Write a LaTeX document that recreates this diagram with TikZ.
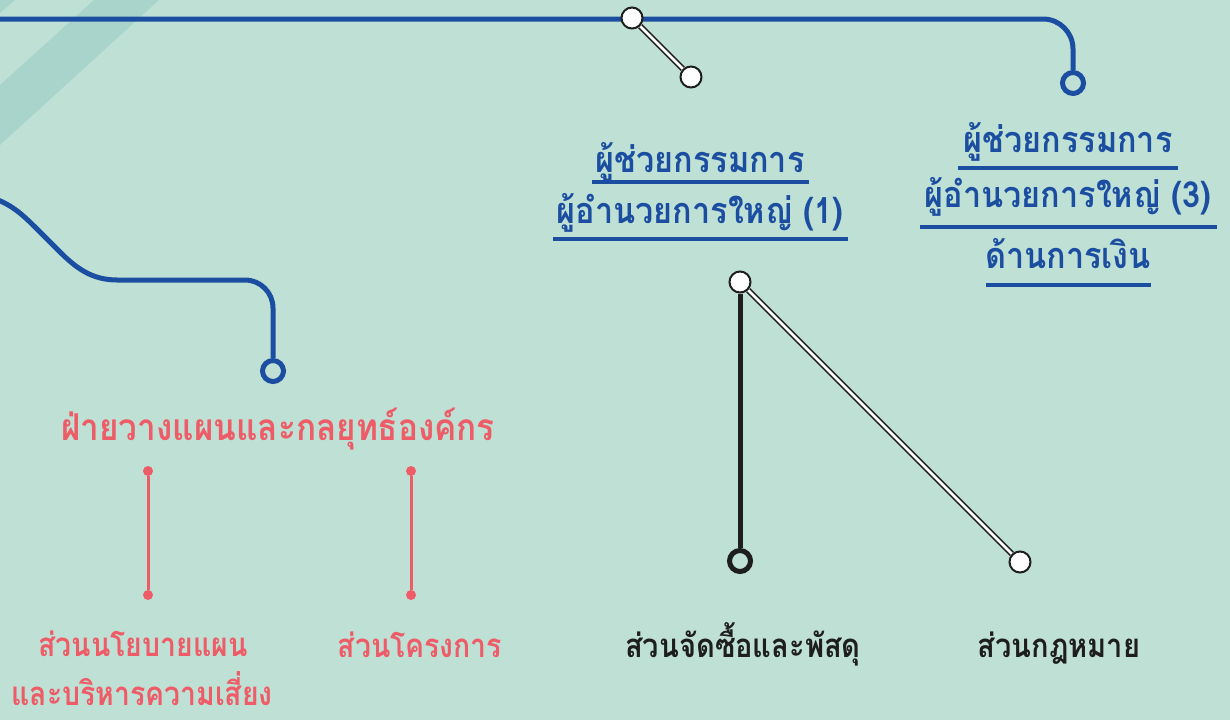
\documentclass[tikz,border=0pt]{standalone}
\usepackage{fontspec}
\newfontfamily\thaiA[Script=Thai, FakeStretch=0.9]{Loma}
\newfontfamily\thaiB[Script=Thai, FakeStretch=0.86]{Loma}
\newfontfamily\thaiC[Script=Thai, FakeStretch=0.88]{Loma}
\definecolor{bgc}{HTML}{BFE0D5}
\definecolor{stripec}{HTML}{A9D4CC}
\definecolor{bluec}{HTML}{1B4EA0}
\definecolor{redc}{HTML}{EE5C67}
\definecolor{blackc}{HTML}{1E1E1E}
\pgfdeclarelayer{bglayer}
\pgfdeclarelayer{lines}
\pgfsetlayers{bglayer,lines,main}
\tikzset{
  blueline/.style={draw=bluec, line width=5pt},
  bluering/.style={circle, draw=bluec, line width=5pt, fill=bgc, minimum size=21pt, inner sep=0pt},
  whitedot/.style={circle, draw=blackc, line width=2pt, fill=white, minimum size=21pt, inner sep=0pt},
  blackring/.style={circle, draw=blackc, line width=5pt, fill=bgc, minimum size=21pt, inner sep=0pt},
  dblline/.style={draw=blackc, double=white, line width=1.6pt, double distance=2.6pt},
  reddot/.style={circle, fill=redc, minimum size=10pt, inner sep=0pt},
  redline/.style={draw=redc, line width=3pt},
  ul/.style={draw=bluec, line width=4pt},
  bluetxt/.style={anchor=base, inner sep=0pt, text=bluec, font=\thaiA\bfseries\fontsize{36}{40}\selectfont},
  redtitle/.style={anchor=base, inner sep=0pt, text=redc, font=\thaiA\bfseries\fontsize{37}{40}\selectfont},
  redtxt/.style={anchor=base, inner sep=0pt, text=redc, font=\thaiB\bfseries\fontsize{33}{38}\selectfont},
  blacktxt/.style={anchor=base, inner sep=0pt, text=blackc, font=\thaiC\bfseries\fontsize{33}{38}\selectfont},
}
\begin{document}
\begin{tikzpicture}[x=1pt,y=-1pt]
\useasboundingbox (0,0) rectangle (1230,720);
\begin{pgfonlayer}{bglayer}
\fill[bgc] (0,0) rectangle (1230,720);
\fill[stripec] (94,0) -- (159,0) -- (0,145) -- (0,85) -- cycle;
\fill[stripec] (0,0) -- (15,0) -- (0,13) -- cycle;
\end{pgfonlayer}
% nodes
\node[bluering] (r3) at (1073,83) {};
\node[bluering] (r1) at (273,371) {};
\node[whitedot] (w1) at (632,18) {};
\node[whitedot] (w2) at (691,77) {};
\node[whitedot] (b1) at (740,282) {};
\node[blackring] (b2) at (740,561) {};
\node[whitedot] (b3) at (1020,562) {};
\node[reddot] (p1) at (148,471) {};
\node[reddot] (p2) at (148,595) {};
\node[reddot] (p3) at (411,471) {};
\node[reddot] (p4) at (411,595) {};
\coordinate (topstart) at (0,19);
\coordinate (leftstart) at (-2,200);
% connectors
\begin{pgfonlayer}{lines}
\draw[blueline, rounded corners=30] (topstart) -| (r3.north);
\draw[blueline] (leftstart) .. controls (15,207) and (25,217) .. (40,232) -- (60,252) .. controls (76,268) and (92,280) .. (117,280) [rounded corners=28] -| (r1.north);
\draw[dblline] (w1) -- (w2);
\draw[draw=blackc, line width=5pt] (b1) -- (b2);
\draw[dblline] (b1) -- (b3);
\draw[redline] (p1) -- (p2);
\draw[redline] (p3) -- (p4);
\end{pgfonlayer}
% texts group 1
\node[bluetxt] (g1a) at (700,172) {ผู้ช่วยกรรมการ};
\node[bluetxt] (g1b) at (700,223) {ผู้อำนวยการใหญ่ (1)};
\draw[ul] (592,182) -- (809,182);
\draw[ul] (553,239) -- (848,239);
% group 2
\node[bluetxt] (g2a) at (1068,152) {ผู้ช่วยกรรมการ};
\node[bluetxt] (g2b) at (1068,207) {ผู้อำนวยการใหญ่ (3)};
\node[bluetxt] (g2c) at (1068,268) {ด้านการเงิน};
\draw[ul] (958,168) -- (1178,168);
\draw[ul] (920,227) -- (1217,227);
\draw[ul] (986,285) -- (1151,285);
% red
\node[redtitle] (rt) at (278,440) {ฝ่ายวางแผนและกลยุทธ์องค์กร};
\node[redtxt] (ra1) at (143,656) {ส่วนนโยบายแผน};
\node[redtxt] (ra2) at (142,705) {และบริหารความเสี่ยง};
\node[redtxt] (rb) at (420,657) {ส่วนโครงการ};
% black
\node[blacktxt] (ka) at (743,657) {ส่วนจัดซื้อและพัสดุ};
\node[blacktxt] (kb) at (1059,657) {ส่วนกฎหมาย};
\end{tikzpicture}
\end{document}
